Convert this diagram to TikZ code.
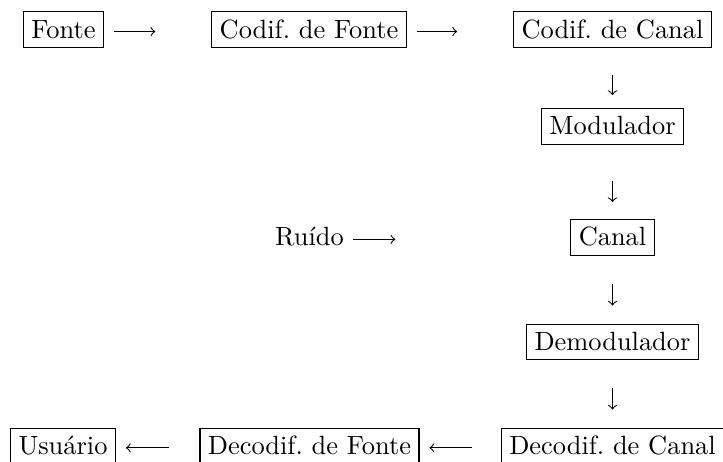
\documentclass[tikz,border=0pt]{standalone}
\frenchspacing
\begin{document}
\begin{tikzpicture}[x=0.3788pt,y=-0.3788pt,
  blk/.style={draw, line width=0.4pt, inner sep=3pt, text height=7pt, text depth=0.6pt},
  lbl/.style={inner sep=0pt, text height=7pt, text depth=0.6pt},
  arr/.style={-to, line width=0.4pt}]
\useasboundingbox (0,0) rectangle (723,462);
% nodes
\node[blk] (fonte)  at (63.5,29.7) {Fonte};
\node[blk] (cfonte) at (309,29.7) {Codif. de Fonte};
\node[blk] (ccanal) at (612.5,29.7) {Codif. de Canal};
\node[blk] (modul)  at (612.5,126.5) {Modulador};
\node[lbl] (ruido)  at (309.5,237.5) {Ruído};
\node[blk] (canal)  at (612.5,237.5) {Canal};
\node[blk] (demod)  at (612.5,342) {Demodulador};
\node[blk] (usuario) at (63,446) {Usuário};
\node[blk] (decf)   at (309.5,446) {Decodif. de Fonte};
\node[blk] (decc)   at (612.5,446) {Decodif. de Canal};
% horizontal arrows
\draw[arr, shorten <=3.8pt, shorten >=21.2pt] ([yshift=-0.7pt]fonte.east) -- ([yshift=-0.7pt]cfonte.west);
\draw[arr, shorten <=3.8pt, shorten >=21.2pt] ([yshift=-0.7pt]cfonte.east) -- ([yshift=-0.7pt]ccanal.west);
\draw[arr, shorten <=3.4pt, shorten >=66.3pt] ([yshift=-0.7pt]ruido.east) -- ([yshift=-0.7pt]canal.west);
\draw[arr, shorten <=11pt, shorten >=3.8pt] ([yshift=-0.7pt]decc.west) -- ([yshift=-0.7pt]decf.east);
\draw[arr, shorten <=11.4pt, shorten >=3.8pt] ([yshift=-0.7pt]decf.west) -- ([yshift=-0.7pt]usuario.east);
% vertical arrows
\draw[arr, shorten <=10pt, shorten >=4.9pt] (ccanal.south) -- (modul.north);
\draw[arr, shorten <=13.6pt, shorten >=6.4pt] (modul.south) -- (canal.north);
\draw[arr, shorten <=10.6pt, shorten >=6.8pt] (canal.south) -- (demod.north);
\draw[arr, shorten <=10.6pt, shorten >=6.8pt] (demod.south) -- (decc.north);
\end{tikzpicture}
\end{document}
